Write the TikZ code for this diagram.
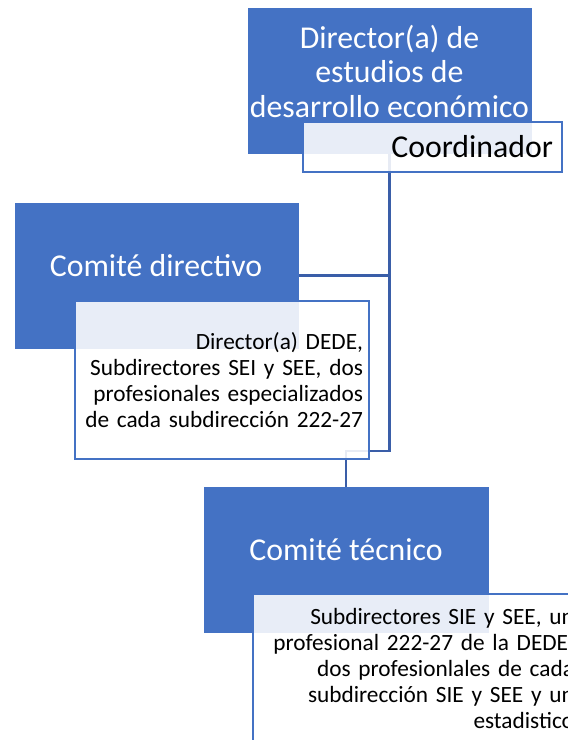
\documentclass[tikz,border=0pt]{standalone}
\usepackage{fontspec}
\setmainfont{Carlito}
\usetikzlibrary{backgrounds}
\definecolor{accent}{RGB}{68,114,196}
\definecolor{linkblue}{RGB}{58,94,168}

\begin{document}
\begin{tikzpicture}[x=1pt,y=-1pt,
  bluebox/.style={rectangle,fill=accent,draw=accent,inner sep=0pt},
  whitebox/.style={rectangle,draw=accent,line width=1.6pt,fill=white,fill opacity=0.88,text opacity=1,inner ysep=0pt},
  bigtext/.style={font=\fontsize{31.8}{34.5}\selectfont,text=white,align=center},
  smalltext/.style={font=\fontsize{23.3}{26}\selectfont,align=right},
  link/.style={draw=linkblue,line width=2.4pt}]
\useasboundingbox (0,0) rectangle (568,740);
\clip (0,0) rectangle (568,740);

\node[bluebox,minimum width=283pt,minimum height=145pt] (dir) at (389.5,80.5) {};
\node[bigtext] (dirtxt) at (389.5,71) {Director(a) de\\estudios de\\desarrollo económico};
\node[whitebox,minimum height=50pt,inner xsep=9pt,text width=241pt,align=right,font=\fontsize{31.8}{34.5}\selectfont] (coord) at (432.5,147) {Coordinador};

\node[bluebox,minimum width=283pt,minimum height=145pt] (cdir) at (156.5,275.5) {};
\node[bigtext] (cdirtxt) at (156,266) {Comité directivo};
\node[whitebox,smalltext,minimum height=158pt,inner xsep=6pt,text width=282pt] (cdirw) at (222,380) {Director(a) DEDE,\\Subdirectores SEI y SEE, dos\\profesionales especializados\\de cada subdirección 222-27};

\node[bluebox,minimum width=284pt,minimum height=145pt] (ctec) at (346,559.5) {};
\node[bigtext] (ctectxt) at (346,550) {Comité técnico};
\node[whitebox,smalltext,minimum height=148pt,inner xsep=6pt,text width=315pt] (ctecw) at (416.5,668) {Subdirectores SIE y SEE, un\\profesional 222-27 de la DEDE,\\dos profesionlales de cada\\subdirección SIE y SEE y un\\estadistico};

\coordinate (jn) at (389.5,451);
\begin{scope}[on background layer]
\draw[link] (cdir.east) -- (cdir.east -| dir.south);
\draw[link] (dir.south) -- (jn) -| (ctec.north);
\end{scope}

\end{tikzpicture}
\end{document}
